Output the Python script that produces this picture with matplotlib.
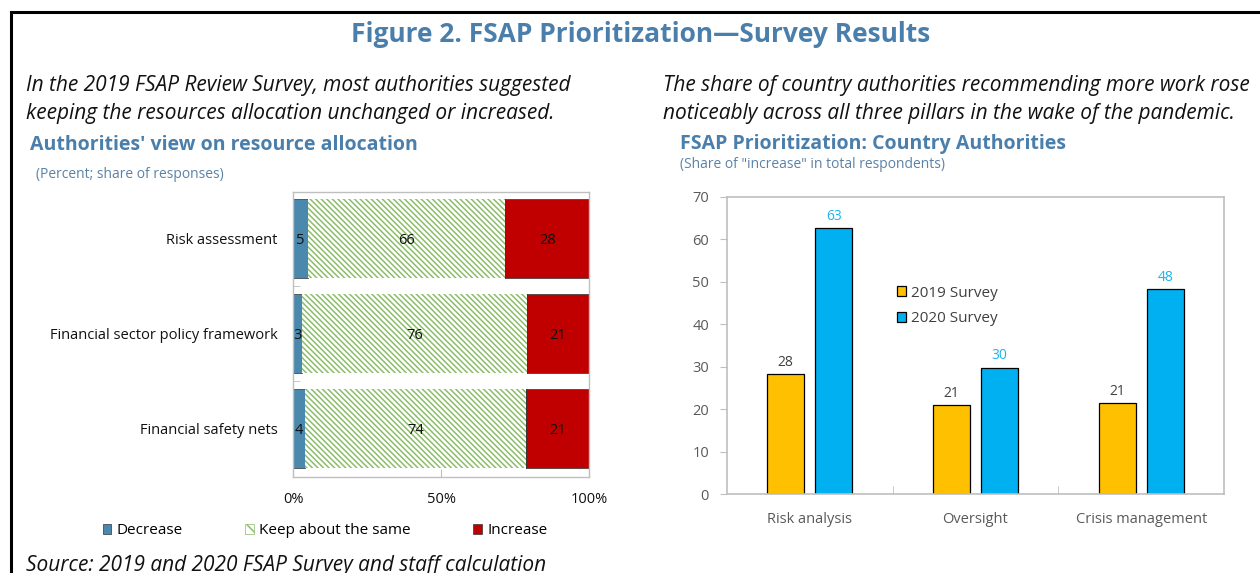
import matplotlib.pyplot as plt
from matplotlib.patches import Rectangle, Patch

plt.rcParams['font.family'] = ['Open Sans', 'DejaVu Sans']
plt.rcParams['hatch.linewidth'] = 1.1

W, H = 1260, 573

# ---- left chart: authorities' view on resource allocation (percent) ----
areas = ['Risk assessment', 'Financial sector policy framework', 'Financial safety nets']
decrease = [5, 3, 4]
keep_same = [66, 76, 74]
increase = [28, 21, 21]
pct_ticks = [0, 50, 100]
pct_labels = ['0%', '50%', '100%']

# ---- right chart: share of "increase" in total respondents ----
pillars = ['Risk analysis', 'Oversight', 'Crisis management']
survey_2019 = [28.3, 21.0, 21.4]
survey_2020 = [62.7, 29.8, 48.3]
y_ticks = [0, 10, 20, 30, 40, 50, 60, 70]

title_blue = '#4a7eab'
grey_spine = '#bfbfbf'
col_dec = '#4a89ad'
col_keep = '#8cbd6a'
col_inc = '#c00000'
col_19 = '#ffc000'
col_20 = '#00b0f0'


def fx(x):
    return x / W


def fy(y):
    return 1 - y / H


fig = plt.figure(figsize=(W / 100, H / 100), dpi=100)

# outer frame (cut off on the right and bottom)
fig.add_artist(Rectangle((fx(11), -0.1), 1.2, fy(12) + 0.1, transform=fig.transFigure,
                         fill=False, lw=2.2, ec='black'))

fig.text(fx(641), fy(35), 'Figure 2. FSAP Prioritization\u2014Survey Results', ha='center', va='center',
         fontsize=19, fontweight='bold', color=title_blue)

fig.text(fx(26), fy(85), 'In the 2019 FSAP Review Survey, most authorities suggested',
         fontsize=15, style='italic', va='center', color='#111111')
fig.text(fx(26), fy(114), 'keeping the resources allocation unchanged or increased.',
         fontsize=15, style='italic', va='center', color='#111111')
fig.text(fx(663), fy(85), 'The share of country authorities recommending more work rose',
         fontsize=15, style='italic', va='center', color='#111111')
fig.text(fx(663), fy(114), 'noticeably across all three pillars in the wake of the pandemic.',
         fontsize=15, style='italic', va='center', color='#111111')

fig.text(fx(30), fy(145), "Authorities' view on resource allocation", fontsize=14, fontweight='bold',
         color=title_blue, va='center')
fig.text(fx(36), fy(174), '(Percent; share of responses)', fontsize=10, color='#5b82a6', va='center')

fig.text(fx(680), fy(144), 'FSAP Prioritization: Country Authorities', fontsize=14, fontweight='bold',
         color=title_blue, va='center')
fig.text(fx(680), fy(165), '(Share of "increase" in total respondents)', fontsize=10, color='#5b82a6',
         va='center')

fig.text(fx(26), fy(565), 'Source: 2019 and 2020 FSAP Survey and staff calculation',
         fontsize=15, style='italic', va='center', color='#111111')

# ---------------- left chart ----------------
ax1 = fig.add_axes([fx(293), fy(477), fx(296), 285 / H])
ypos = list(range(len(areas)))
totals = [d + k + i for d, k, i in zip(decrease, keep_same, increase)]
dec_s = [d / t * 100 for d, t in zip(decrease, totals)]
keep_s = [k / t * 100 for k, t in zip(keep_same, totals)]
inc_s = [i / t * 100 for i, t in zip(increase, totals)]
left2 = dec_s
left3 = [a + b for a, b in zip(dec_s, keep_s)]

h = 0.83
ax1.barh(ypos, dec_s, height=h, color=col_dec, edgecolor='#333333', lw=0.5)
ax1.barh(ypos, keep_s, left=left2, height=h, color='white', edgecolor=col_keep, lw=0,
         hatch='\\' * 6)
ax1.barh(ypos, inc_s, left=left3, height=h, color=col_inc, edgecolor='#333333', lw=0.5)
for y in ypos:
    ax1.plot([left3[y], left3[y]], [y - h / 2, y + h / 2], color='#333333', lw=0.6)

for y in ypos:
    ax1.text(dec_s[y] / 2, y + 0.02, str(decrease[y]), ha='center', va='center', fontsize=10.5,
             color='#111111')
    ax1.text(left2[y] + keep_s[y] / 2, y + 0.02, str(keep_same[y]), ha='center', va='center',
             fontsize=10.5, color='#111111')
    ax1.text(left3[y] + inc_s[y] / 2, y + 0.02, str(increase[y]), ha='center', va='center',
             fontsize=10.5, color='#111111')

ax1.set_xlim(0, 100)
ax1.set_ylim(2.51, -0.49)
ax1.set_yticks(ypos)
ax1.set_yticklabels(areas, fontsize=10.5, color='#111111')
ax1.set_yticks([0.5, 1.5], minor=True)
ax1.tick_params(axis='y', which='major', length=0, pad=11)
ax1.tick_params(axis='y', which='minor', length=5, direction='in', color=grey_spine)
ax1.set_xticks(pct_ticks)
ax1.set_xticklabels(pct_labels, fontsize=10.5, color='#111111')
ax1.tick_params(axis='x', length=6, direction='in', color=grey_spine, pad=11)
for s in ax1.spines.values():
    s.set_color(grey_spine)
    s.set_linewidth(1)

handles = [Patch(facecolor=col_dec, edgecolor='#333333', lw=0.5),
           Patch(facecolor='white', edgecolor=col_keep, hatch='\\\\\\', lw=0.5),
           Patch(facecolor=col_inc, edgecolor='#333333', lw=0.5)]
fig.legend(handles, ['Decrease', 'Keep about the same', 'Increase'], ncol=3,
           loc='center left', bbox_to_anchor=(fx(89), fy(531)), frameon=False, fontsize=11,
           handlelength=0.55, handleheight=0.55, handletextpad=0.35, columnspacing=4.1)

# ---------------- right chart ----------------
ax2 = fig.add_axes([fx(727), fy(494), fx(497), 297 / H])
xpos = list(range(len(pillars)))
off = 0.145
bw = 0.223
x19 = [x - off for x in xpos]
x20 = [x + off for x in xpos]
ax2.bar(x19, survey_2019, width=bw, color=col_19, edgecolor='black', lw=0.9, label='2019 Survey')
ax2.bar(x20, survey_2020, width=bw, color=col_20, edgecolor='black', lw=0.9, label='2020 Survey')
for x, v in zip(x19, survey_2019):
    ax2.text(x, v + 1.0, f'{v:.0f}', ha='center', va='bottom', fontsize=10, color='#404040')
for x, v in zip(x20, survey_2020):
    ax2.text(x, v + 1.0, f'{v:.0f}', ha='center', va='bottom', fontsize=10, color='#1cb4f0')

ax2.set_xlim(-0.5, 2.5)
ax2.set_ylim(0, 70)
ax2.set_yticks(y_ticks)
ax2.tick_params(axis='y', length=5, color=grey_spine, labelsize=10.5, labelcolor='#595959', pad=8)
ax2.set_xticks(xpos)
ax2.set_xticklabels(pillars, fontsize=10.5, color='#595959')
ax2.set_xticks([0.5, 1.5], minor=True)
ax2.tick_params(axis='x', which='major', length=0, pad=13)
ax2.tick_params(axis='x', which='minor', length=6, direction='in', color=grey_spine)
for s in ax2.spines.values():
    s.set_color(grey_spine)
    s.set_linewidth(1.2)

ax2.legend(loc='center left', bbox_to_anchor=((889 - 727 - 6) / 497, (494 - 306) / 297), frameon=False,
           fontsize=11, handlelength=0.6, handleheight=0.6, handletextpad=0.35, labelspacing=0.7,
           labelcolor='#404040')

fig.savefig('out.png', dpi=100)
